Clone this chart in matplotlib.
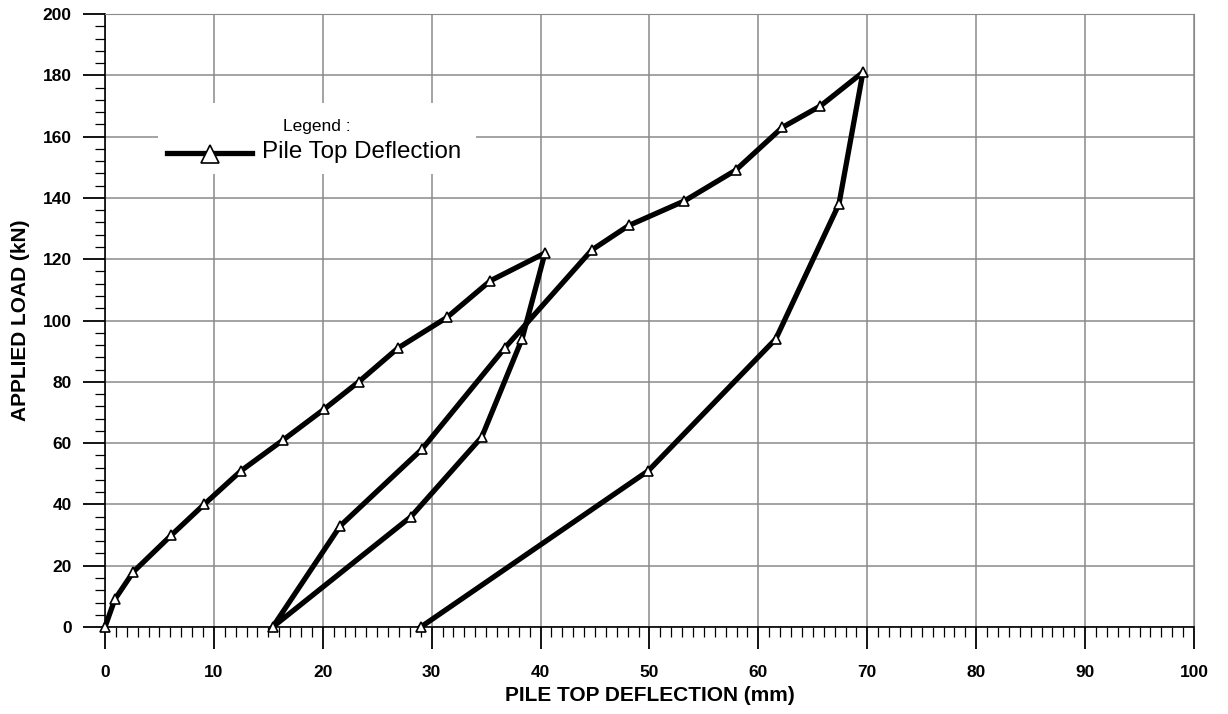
import matplotlib.pyplot as plt
from matplotlib.ticker import MultipleLocator

plt.rcParams['font.family'] = ['Liberation Sans', 'DejaVu Sans']

# pile top deflection (mm) and applied load (kN), in test order
deflection = [0, 0.9, 2.6, 6.1, 9.1, 12.5, 16.35, 20.1, 23.3, 26.9, 31.4, 35.4, 40.4,
              38.3, 34.6, 28.1, 15.4,
              21.6, 29.1, 36.7, 44.7, 48.1, 53.2, 57.9, 62.2, 65.7, 69.6,
              67.4, 61.6, 49.9, 29.0]
load = [0, 9, 18, 30, 40, 51, 61, 71, 80, 91, 101, 113, 122,
        94, 62, 36, 0,
        33, 58, 91, 123, 131, 139, 149, 163, 170, 181,
        138, 94, 51, 0]

fig = plt.figure(figsize=(12.28, 7.14), dpi=100)
ax = fig.add_axes([0.0855, 0.1218, 0.8868, 0.8586])

ax.plot(deflection, load, color='black', lw=3.8, marker='^', ms=7,
        mfc='white', mec='black', mew=1.2, zorder=3, clip_on=False)

ax.set_xlim(0, 100)
ax.set_ylim(0, 200)
ax.xaxis.set_major_locator(MultipleLocator(10))
ax.xaxis.set_minor_locator(MultipleLocator(1))
ax.yaxis.set_major_locator(MultipleLocator(20))
ax.yaxis.set_minor_locator(MultipleLocator(4))
ax.grid(True, which='major', color='#8a8a8a', lw=1.1, zorder=0)

ax.tick_params(which='major', direction='out', length=16, width=1.3, color='black',
               labelsize=12.5)
ax.tick_params(axis='x', which='major', pad=11)
ax.tick_params(axis='y', which='major', pad=8)
ax.tick_params(which='minor', direction='out', length=7.5, width=0.9, color='black')
for lab in ax.get_xticklabels() + ax.get_yticklabels():
    lab.set_fontweight('bold')

for s in ['top', 'right']:
    ax.spines[s].set_color('#8a8a8a')
for s in ['left', 'bottom']:
    ax.spines[s].set_color('black')
    ax.spines[s].set_linewidth(1.2)

ax.set_xlabel('PILE TOP DEFLECTION (mm)', fontsize=15, fontweight='bold', labelpad=5)
ax.set_ylabel('APPLIED LOAD (kN)', fontsize=15, fontweight='bold', labelpad=9)

# legend box with no frame, blanking the grid behind it
leg_ax = fig.add_axes([158 / 1228, 1 - 174 / 714, 318 / 1228, 71 / 714])
leg_ax.set_xlim(0, 318)
leg_ax.set_ylim(71, 0)
leg_ax.axis('off')
leg_ax.add_patch(plt.Rectangle((0, 0), 318, 71, color='white', zorder=0))
leg_ax.text(159, 24, 'Legend :', fontsize=12.5, ha='center', va='center')
leg_ax.plot([9, 94], [50, 50], color='black', lw=3.8, zorder=2)
leg_ax.plot([52], [50.5], marker='^', ms=12.5, mfc='white', mec='black', mew=1.2, zorder=3)
leg_ax.text(104, 49, 'Pile Top Deflection', fontsize=17.4, ha='left', va='center')

fig.savefig('out.png', dpi=100)
